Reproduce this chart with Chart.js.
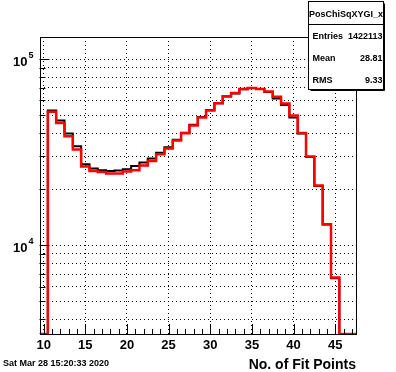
<!DOCTYPE html>
<html>
<head>
<meta charset="utf-8">
<script src="https://cdn.jsdelivr.net/npm/chart.js@4/dist/chart.umd.min.js"></script>
<style>
  body { margin: 0; background: #fff; }
  canvas { display: block; }
</style>
</head>
<body>
<canvas id="myChart" width="396" height="372"></canvas>
<script>
// bin centres 10..47 (width 1)
const binCenters = [10, 11, 12, 13, 14, 15, 16, 17, 18, 19, 20, 21, 22, 23, 24, 25, 26, 27, 28,
  29, 30, 31, 32, 33, 34, 35, 36, 37, 38, 39, 40, 41, 42, 43, 44, 45, 46, 47];
const blackCounts = [0, 52900, 46700, 39800, 34000, 27200, 25800, 25300, 25000, 25200, 25600,
  26600, 27800, 29200, 31400, 33600, 36800, 40200, 44400, 48800, 53200, 57900, 62900, 65200,
  68800, 69900, 69100, 66500, 61300, 56600, 48500, 39800, 29800, 20800, 12900, 6650, 0, 0];
const redCounts = [0, 52100, 45300, 38500, 32700, 26500, 25000, 24700, 24300, 24300, 24900,
  25300, 26800, 28300, 30800, 33100, 36500, 39900, 43900, 48500, 52900, 57800, 63100, 65700,
  69000, 69900, 69100, 67000, 62700, 57700, 49700, 40000, 29950, 20900, 12970, 6700, 0, 0];

const xTicks = [10, 15, 20, 25, 30, 35, 40, 45];
const yMajorTicks = [10000, 100000];
const yGridTicks = [4000, 5000, 6000, 7000, 8000, 9000, 10000, 20000, 30000, 40000, 50000,
  60000, 70000, 80000, 90000, 100000];
const xMin = 9.5, xMax = 47.5;
const yMin = 3335, yMax = 131300;

const statsTitle = 'PosChiSqXYGI_x';
const statsRows = [['Entries', '1422113'], ['Mean', '28.81'], ['RMS', '9.33']];
const xTitle = 'No. of Fit Points';
const dateText = 'Sat Mar 28 15:20:33 2020';

// histogram outline: one point per left bin edge, plus the last right edge
function histPoints(counts) {
  var pts = binCenters.map(function (c, i) {
    return { x: c - 0.5, y: Math.max(counts[i], yMin) };
  });
  pts.push({ x: binCenters[binCenters.length - 1] + 0.5, y: Math.max(counts[counts.length - 1], yMin) });
  return pts;
}

const FONT = '"Liberation Sans", Arial, sans-serif';

const rootStyle = {
  id: 'rootStyle',
  afterDraw: function (chart) {
    const ctx = chart.ctx;
    const a = chart.chartArea;
    const xs = chart.scales.x, ys = chart.scales.y;
    ctx.save();
    ctx.strokeStyle = '#000';
    ctx.fillStyle = '#000';
    ctx.lineWidth = 1;

    // frame
    ctx.strokeRect(Math.round(a.left) + 0.5, Math.round(a.top) + 0.5,
      Math.round(a.right - a.left) - 1, Math.round(a.bottom - a.top));

    // x ticks (inward)
    ctx.beginPath();
    for (var v = 10; v <= 47; v++) {
      var px = Math.round(xs.getPixelForValue(v)) + 0.5;
      var len = xTicks.indexOf(v) >= 0 ? 10 : 5;
      ctx.moveTo(px, a.bottom);
      ctx.lineTo(px, a.bottom - len);
    }
    // y ticks (inward)
    yGridTicks.forEach(function (t) {
      var py = Math.round(ys.getPixelForValue(t)) + 0.5;
      var len = yMajorTicks.indexOf(t) >= 0 ? 10 : 6;
      ctx.moveTo(a.left, py);
      ctx.lineTo(a.left + len, py);
    });
    ctx.stroke();

    // x labels
    ctx.font = 'bold 13px ' + FONT;
    ctx.textAlign = 'center';
    ctx.textBaseline = 'alphabetic';
    xTicks.forEach(function (t) {
      ctx.fillText(String(t), xs.getPixelForValue(t), 348.5);
    });

    // y labels 10^n
    yMajorTicks.forEach(function (t) {
      var py = ys.getPixelForValue(t);
      ctx.font = 'bold 13px ' + FONT;
      ctx.textAlign = 'right';
      ctx.fillText('10', 27.5, py + 7);
      ctx.font = 'bold 9px ' + FONT;
      ctx.textAlign = 'left';
      ctx.fillText(String(Math.round(Math.log10(t))), 28.5, py - 1);
    });

    // axis title
    ctx.font = 'bold 14px ' + FONT;
    ctx.textAlign = 'right';
    ctx.fillText(xTitle, 356, 368.5);

    // date
    ctx.font = 'bold 9px ' + FONT;
    ctx.textAlign = 'left';
    ctx.fillText(dateText, 3, 365.5);

    // stats box
    var bx = 308.5, by = 1.5, bw = 75, bh = 88;
    ctx.fillStyle = '#fff';
    ctx.fillRect(bx, by, bw, bh);
    ctx.strokeRect(bx, by, bw, bh);
    ctx.beginPath();
    ctx.moveTo(bx + bw + 1, by + 2);
    ctx.lineTo(bx + bw + 1, by + bh + 1);
    ctx.lineTo(bx + 2, by + bh + 1);
    ctx.moveTo(bx, 24.5);
    ctx.lineTo(bx + bw, 24.5);
    ctx.stroke();
    ctx.fillStyle = '#000';
    ctx.font = 'bold 9px ' + FONT;
    ctx.textAlign = 'center';
    ctx.fillText(statsTitle, bx + bw / 2, 16.5);
    var rowY = [39, 61.3, 83.3];
    statsRows.forEach(function (r, i) {
      ctx.textAlign = 'left';
      ctx.fillText(r[0], 312.5, rowY[i]);
      ctx.textAlign = 'right';
      ctx.fillText(r[1], 382.5, rowY[i]);
    });
    ctx.restore();
  }
};

const ctx = document.getElementById('myChart').getContext('2d');

var chart = new Chart(ctx, {
  type: 'line',
  data: {
    datasets: [{
      label: 'red',
      data: histPoints(redCounts),
      borderColor: '#ff0000',
      borderWidth: 2.5,
      stepped: 'before',
      pointRadius: 0,
      fill: false,
      order: 0
    }, {
      label: 'black',
      data: histPoints(blackCounts),
      borderColor: '#000000',
      borderWidth: 2,
      stepped: 'before',
      pointRadius: 0,
      fill: false,
      order: 1
    }]
  },
  options: {
    responsive: false,
    animation: false,
    layout: {
      padding: { left: 39.5, right: 40, top: 37, bottom: 38 }
    },
    plugins: {
      legend: { display: false },
      tooltip: { enabled: false }
    },
    scales: {
      x: {
        type: 'linear',
        min: xMin,
        max: xMax,
        afterBuildTicks: function (scale) {
          scale.ticks = xTicks.map(function (v) { return { value: v }; });
        },
        ticks: { display: false },
        grid: { color: '#000', lineWidth: 1, drawTicks: false },
        border: { display: false, dash: [1, 3] }
      },
      y: {
        type: 'logarithmic',
        min: yMin,
        max: yMax,
        afterBuildTicks: function (scale) {
          scale.ticks = yGridTicks.map(function (v) { return { value: v }; });
        },
        ticks: { display: false },
        grid: { color: '#000', lineWidth: 1, drawTicks: false },
        border: { display: false, dash: [1, 3] }
      }
    }
  },
  plugins: [rootStyle]
});
</script>
</body>
</html>
